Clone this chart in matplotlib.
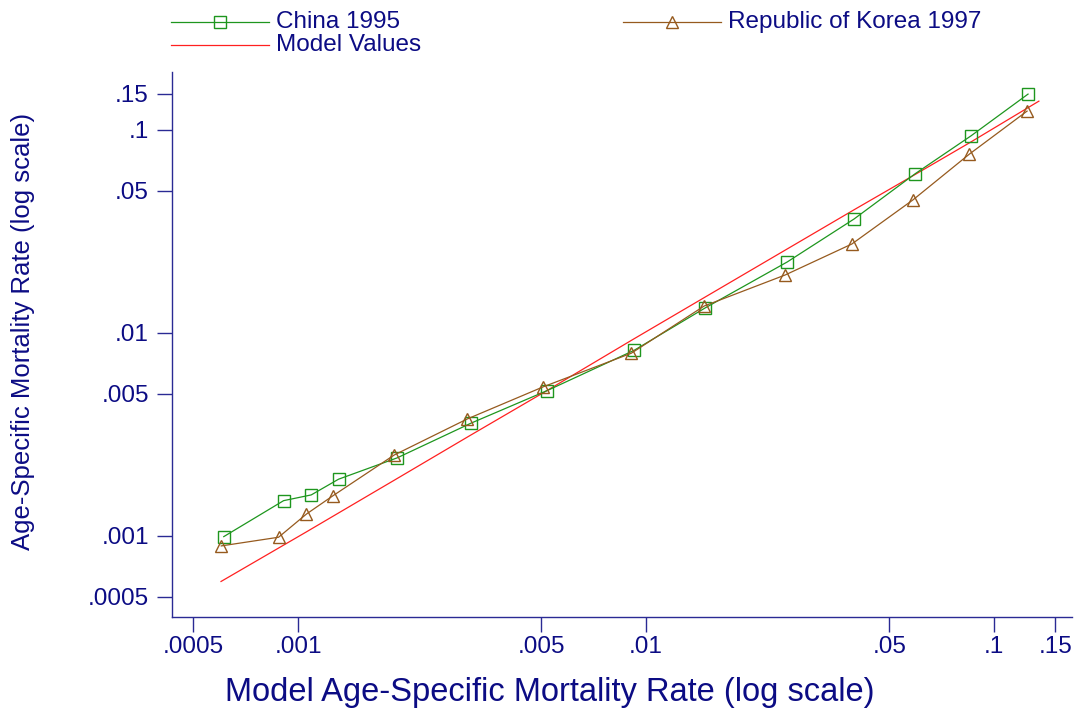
import matplotlib
matplotlib.use("Agg")
from matplotlib import pyplot as plt
from matplotlib.lines import Line2D
from matplotlib.ticker import FixedLocator, FixedFormatter, NullLocator

# model (x) and observed (y) age-specific mortality rates
china_model = [0.000611, 0.000908, 0.00109, 0.001306, 0.001925, 0.003142, 0.005184,
               0.009237, 0.01481, 0.02542, 0.0396, 0.0593, 0.0859, 0.1252]
china_obs = [0.000991, 0.00149, 0.00159, 0.0019, 0.00242, 0.00359, 0.00518,
             0.00819, 0.01327, 0.02228, 0.0363, 0.0606, 0.0932, 0.1495]

korea_model = [0.000601, 0.000878, 0.001056, 0.00126, 0.001888, 0.00306, 0.005069,
               0.00906, 0.01468, 0.02508, 0.039, 0.0584, 0.0849, 0.1244]
korea_obs = [0.000892, 0.000984, 0.00128, 0.001577, 0.0025, 0.00376, 0.00542,
             0.00792, 0.01353, 0.01923, 0.02732, 0.045, 0.0757, 0.1233]

model_x = [0.0006, 0.00105, 0.0019, 0.0031, 0.0051, 0.0091, 0.0147, 0.0252, 0.0395, 0.059, 0.0855, 0.1345]
model_y = [0.000596, 0.00104, 0.00189, 0.0031, 0.0051, 0.0092, 0.0149, 0.0256, 0.0402, 0.0598, 0.0866, 0.138]

tick_vals = [0.0005, 0.001, 0.005, 0.01, 0.05, 0.1, 0.15]
tick_text = [".0005", ".001", ".005", ".01", ".05", ".1", ".15"]

NAVY = "#0c0c84"
AXIS = "#2a2a94"
GREEN = "#1e961e"
BROWN = "#965a1e"
RED = "#ff2020"

plt.rcParams["font.family"] = ["Liberation Sans", "DejaVu Sans"]

fig = plt.figure(figsize=(10.76, 7.21), dpi=100)
ax = fig.add_axes([0.1596, 0.1438, 0.8367, 0.7563])

ax.plot(model_x, model_y, color=RED, lw=0.9, zorder=2)
ax.plot(china_model, china_obs, color=GREEN, lw=0.9, marker="s", ms=8.5,
        mfc="none", mec=GREEN, mew=1.0, zorder=3)
ax.plot(korea_model, korea_obs, color=BROWN, lw=0.9, marker="^", ms=9,
        mfc="none", mec=BROWN, mew=1.0, zorder=3)

ax.set_xscale("log")
ax.set_yscale("log")
ax.set_xlim(0.000433, 0.1675)
ax.set_ylim(0.000397, 0.192)

for axis in (ax.xaxis, ax.yaxis):
    axis.set_major_locator(FixedLocator(tick_vals))
    axis.set_major_formatter(FixedFormatter(tick_text))
    axis.set_minor_locator(NullLocator())

ax.tick_params(axis="both", colors=AXIS, labelcolor=NAVY, labelsize=17.5,
               length=10.5, width=1.0)
ax.tick_params(axis="y", pad=6)
ax.tick_params(axis="x", pad=3)

for side in ("top", "right"):
    ax.spines[side].set_visible(False)
for side in ("left", "bottom"):
    ax.spines[side].set_color(AXIS)
    ax.spines[side].set_linewidth(1.0)

fig.text(0.511, 0.039, "Model Age-Specific Mortality Rate (log scale)",
         color=NAVY, fontsize=23.5, ha="center", va="center")
fig.text(0.021, 0.54, "Age-Specific Mortality Rate (log scale)",
         color=NAVY, fontsize=18.5, ha="center", va="center", rotation=90)

# legend drawn in figure pixels
def legend_entry(x0, x1, y, color, marker, text):
    xm = (x0 + x1) / 2
    yy = 1 - y / 721
    line = Line2D([x0 / 1076, xm / 1076, x1 / 1076], [yy, yy, yy],
                  transform=fig.transFigure, color=color, lw=0.9,
                  marker=marker, markevery=[1], ms=8, mfc="none",
                  mec=color, mew=1.0)
    fig.add_artist(line)
    fig.text((x1 + 7) / 1076, yy, text, color=NAVY, fontsize=17.5,
             ha="left", va="center")

legend_entry(171, 269, 22, GREEN, "s", "China 1995")
legend_entry(623, 721, 22, BROWN, "^", "Republic of Korea 1997")
legend_entry(171, 269, 45, RED, "None", "Model Values")

fig.savefig("out.png", dpi=100)
